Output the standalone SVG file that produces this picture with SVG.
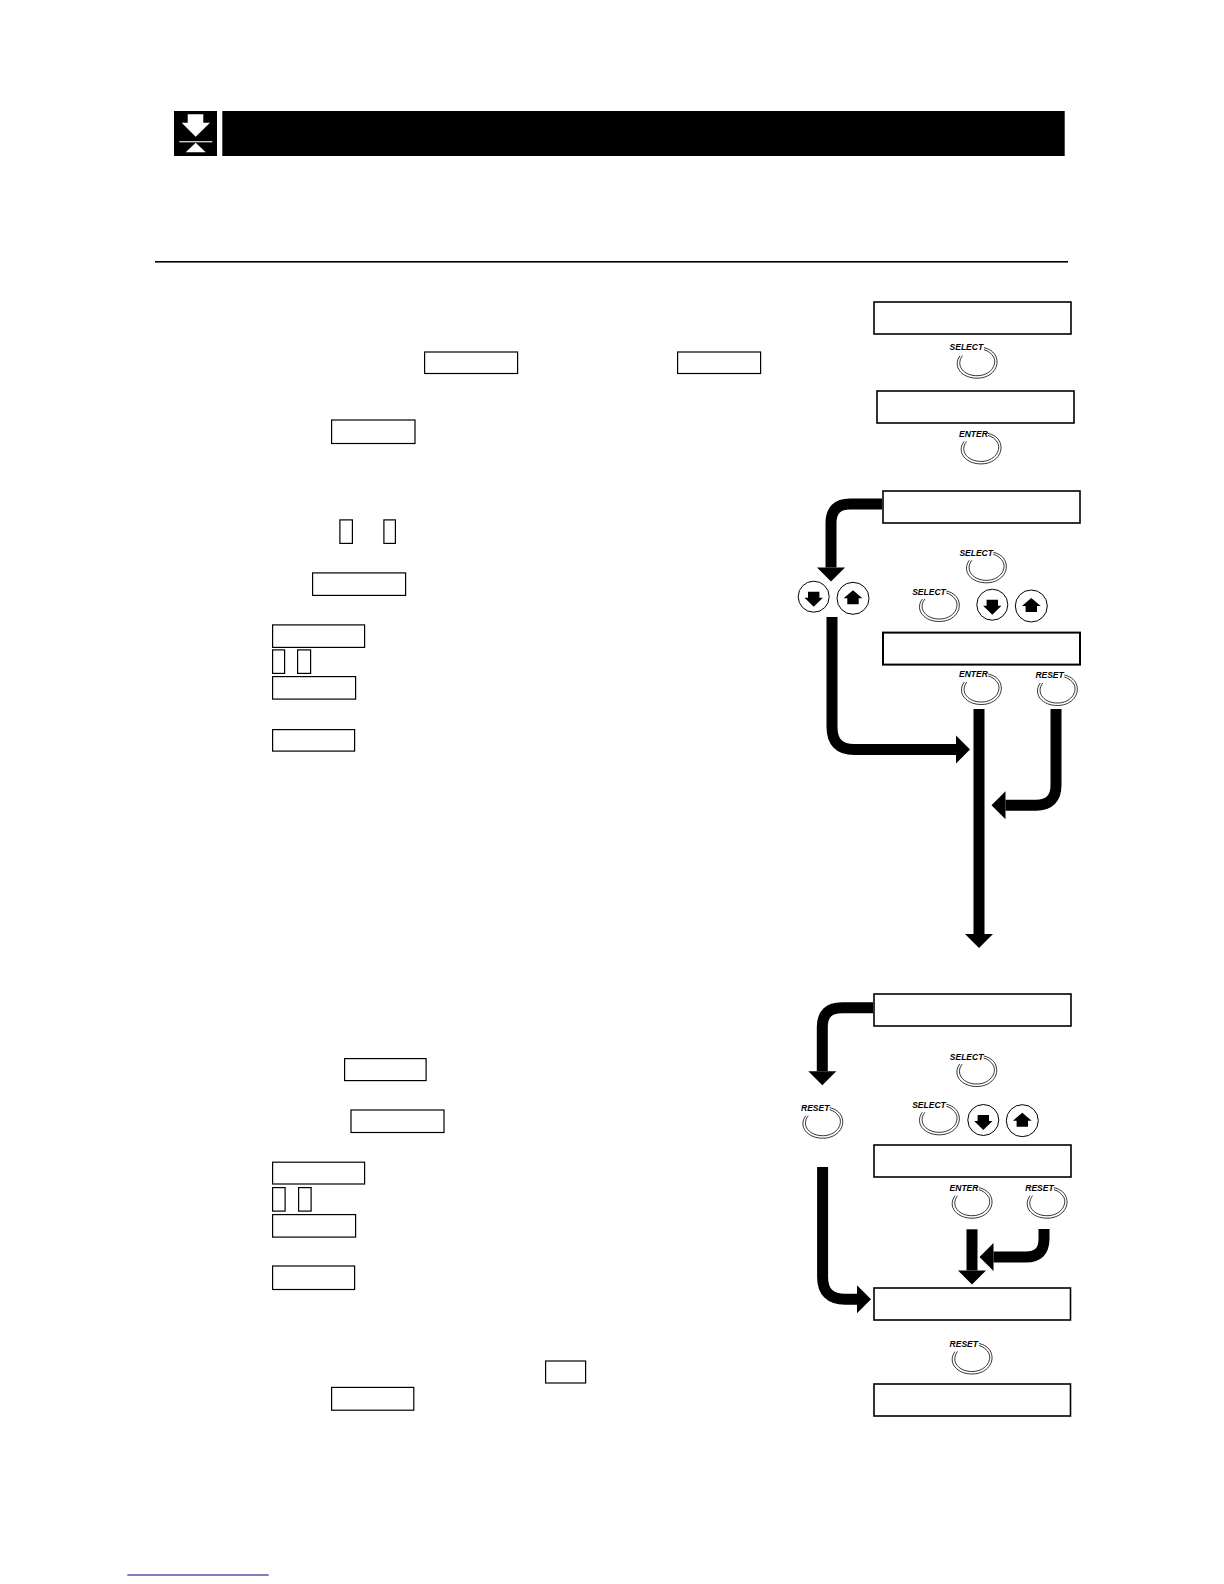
<svg xmlns="http://www.w3.org/2000/svg" xmlns:xlink="http://www.w3.org/1999/xlink" width="1224" height="1584" viewBox="0 0 1224 1584">
<style>
.box{fill:#fff;stroke:#000;stroke-width:1.6}
.ref{fill:#fff;stroke:#000;stroke-width:1.2}
.wire{fill:none;stroke:#000;stroke-width:11;marker-end:url(#head)}
.lbl{font-family:"Liberation Sans",Arial,sans-serif;font-size:8.5px;font-weight:bold;font-style:italic;fill:#000}
.arc{fill:none;stroke:#000;stroke-width:.8}
.circ{fill:#fff;stroke:#000;stroke-width:1}
</style>
<defs>
<marker id="head" markerUnits="userSpaceOnUse" markerWidth="14" markerHeight="28" refX="0" refY="14" orient="auto" overflow="visible"><path d="M0,0L14,14L0,28Z" fill="#000"/></marker>
<g id="press"><path class="arc" d="M-17,-7C-25,4 -15,16 1,15.5C15,15 23,4 19,-6C17,-11 12,-14 7,-15"/><path class="arc" d="M-14.5,-7C-22,3 -13,13.5 1,13C13,12.5 20,3 17,-5C15,-9 11,-12 7,-13"/></g>
<g id="down"><circle class="circ" r="15.5"/><path d="M-5.7,-5H5.7V1H9.2L0,10L-9.2,1H-5.7Z"/></g>
<g id="up"><circle class="circ" r="16"/><path d="M0,-8L9.4,0H5.7V6H-5.7V0H-9.4Z"/></g>
</defs>
<rect width="1224" height="1584" fill="#fff"/>
<g id="header">
<rect x="174" y="111" width="43" height="45" fill="#000"/>
<path d="M187.7,114.3H203.3V122.7H210L195.7,136.7L181.7,122.7H187.7Z" fill="#fff"/>
<rect x="179.3" y="141.2" width="33" height="1.1" fill="#fff"/>
<path d="M195.7,142.7L205.7,152.3H185.7Z" fill="#fff"/>
<rect x="222.3" y="111" width="842.4" height="45" fill="#000"/>
</g>
<rect id="rule" x="155" y="261" width="913" height="1.6" fill="#000"/>
<g id="text-refs">
<rect class="ref" x="424.6" y="352" width="93" height="21.5"/>
<rect class="ref" x="677.6" y="352" width="83" height="21.5"/>
<rect class="ref" x="331.6" y="420" width="83.4" height="23.5"/>
<rect class="ref" x="339.9" y="519.9" width="12.5" height="23.5"/>
<rect class="ref" x="383.9" y="519.9" width="11.5" height="23.5"/>
<rect class="ref" x="312.6" y="572.9" width="93" height="22.5"/>
<rect class="ref" x="272.6" y="624.9" width="92" height="22.5"/>
<rect class="ref" x="272.6" y="649.9" width="12" height="23.5"/>
<rect class="ref" x="297.6" y="649.9" width="13" height="23.5"/>
<rect class="ref" x="272.6" y="676.6" width="83" height="22.5"/>
<rect class="ref" x="272.6" y="729.6" width="82" height="21.5"/>
<rect class="ref" x="344.6" y="1058.6" width="81.5" height="22"/>
<rect class="ref" x="351" y="1110" width="93" height="22.5"/>
<rect class="ref" x="272.6" y="1162.2" width="92" height="21.8"/>
<rect class="ref" x="272.6" y="1187.6" width="12.5" height="23.5"/>
<rect class="ref" x="298.6" y="1187.6" width="12.5" height="23.5"/>
<rect class="ref" x="272.6" y="1214.6" width="83" height="22.5"/>
<rect class="ref" x="272.6" y="1266" width="82" height="23.5"/>
<rect class="ref" x="545.6" y="1361" width="40" height="22"/>
<rect class="ref" x="331.6" y="1387.4" width="82.2" height="22.8"/>
</g>
<g id="connectors">
<path class="wire" d="M882,504H850Q831,504 831,523V567.5"/>
<path class="wire" d="M832,617V727Q832,749.5 854,749.5H956"/>
<path class="wire" d="M979,709V934"/>
<path class="wire" d="M1056,709V785Q1056,805.3 1036,805.3H1005.5"/>
<path class="wire" d="M873,1007.7H842Q822.3,1007.7 822.3,1027V1071.3"/>
<path class="wire" d="M822.6,1167V1277Q822.6,1299.3 845,1299.3H857"/>
<path class="wire" d="M972,1229.3V1270.5"/>
<path class="wire" d="M1044,1229V1239Q1044,1257 1026,1257H993.5"/>
</g>
<g id="display-1"><rect class="box" x="874" y="302" width="197" height="32"/></g>
<g id="display-2"><rect class="box" x="877" y="391" width="197" height="32"/></g>
<g id="display-3"><rect class="box" x="883" y="491" width="197" height="32"/></g>
<g id="display-4"><rect class="box" style="stroke-width:2" x="883" y="632.6" width="197" height="32"/></g>
<g id="display-5"><rect class="box" x="874" y="994" width="197" height="32"/></g>
<g id="display-6"><rect class="box" x="874" y="1145" width="197" height="32"/></g>
<g id="display-7"><rect class="box" x="874" y="1288" width="196.5" height="32"/></g>
<g id="display-8"><rect class="box" x="874" y="1384" width="196.5" height="32"/></g>
<g id="btn-select-1"><use xlink:href="#press" href="#press" x="977" y="362.7"/><text class="lbl" x="949.6" y="350">SELECT</text></g>
<g id="btn-enter-1"><use xlink:href="#press" href="#press" x="981" y="448.4"/><text class="lbl" x="959" y="437">ENTER</text></g>
<g id="btn-select-2"><use xlink:href="#press" href="#press" x="986.3" y="567.3"/><text class="lbl" x="959.4" y="556.3">SELECT</text></g>
<g id="btn-select-3"><use xlink:href="#press" href="#press" x="939.3" y="606"/><text class="lbl" x="912.2" y="594.7">SELECT</text></g>
<g id="btn-down-1"><use xlink:href="#down" href="#down" x="813.7" y="596.7"/></g>
<g id="btn-up-1"><use xlink:href="#up" href="#up" x="853" y="598.3"/></g>
<g id="btn-down-2"><use xlink:href="#down" href="#down" x="992.3" y="604.7"/></g>
<g id="btn-up-2"><use xlink:href="#up" href="#up" x="1031.3" y="606"/></g>
<g id="btn-enter-2"><use xlink:href="#press" href="#press" x="981.3" y="689"/><text class="lbl" x="959" y="676.7">ENTER</text></g>
<g id="btn-reset-1"><use xlink:href="#press" href="#press" x="1057.3" y="690"/><text class="lbl" x="1035.4" y="677.6">RESET</text></g>
<g id="btn-select-4"><use xlink:href="#press" href="#press" x="976.7" y="1071"/><text class="lbl" x="949.8" y="1060">SELECT</text></g>
<g id="btn-reset-2"><use xlink:href="#press" href="#press" x="822.7" y="1122.7"/><text class="lbl" x="801" y="1111.3">RESET</text></g>
<g id="btn-select-5"><use xlink:href="#press" href="#press" x="939.3" y="1119.3"/><text class="lbl" x="912.2" y="1108">SELECT</text></g>
<g id="btn-down-3"><use xlink:href="#down" href="#down" x="983.3" y="1120"/></g>
<g id="btn-up-3"><use xlink:href="#up" href="#up" x="1022.3" y="1120.7"/></g>
<g id="btn-enter-3"><use xlink:href="#press" href="#press" x="972" y="1202.7"/><text class="lbl" x="949.6" y="1191.3">ENTER</text></g>
<g id="btn-reset-3"><use xlink:href="#press" href="#press" x="1047" y="1202.7"/><text class="lbl" x="1025.3" y="1191.3">RESET</text></g>
<g id="btn-reset-4"><use xlink:href="#press" href="#press" x="972" y="1358.5"/><text class="lbl" x="949.6" y="1347">RESET</text></g>
<rect id="footer-rule" x="127.3" y="1574.5" width="141.4" height="1" fill="#000080"/>
</svg>
